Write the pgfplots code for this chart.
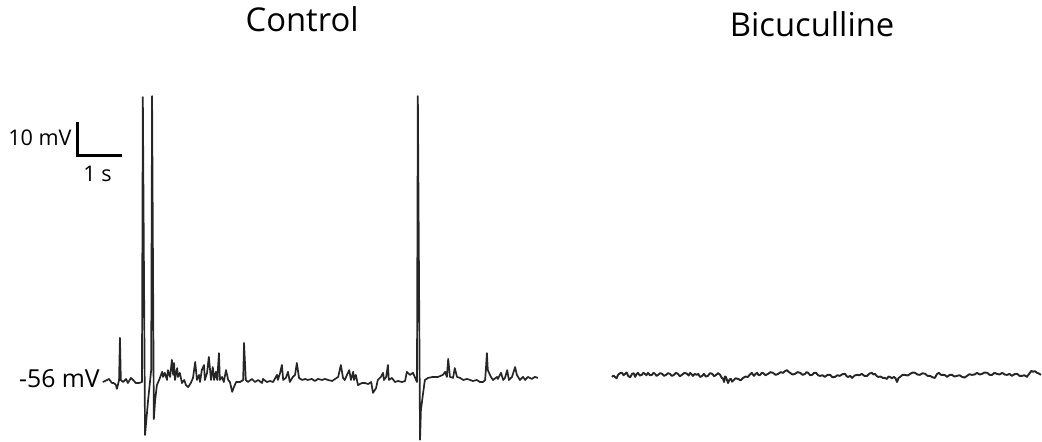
\documentclass[border=0pt]{standalone}
\usepackage{fontspec}
\setmainfont{Open Sans}
\usepackage{pgfplots}
\pgfplotsset{compat=1.18}

\definecolor{trace}{gray}{0.15}

\begin{document}
\begin{tikzpicture}
\begin{axis}[
  scale only axis,
  width=521pt, height=221pt,
  xmin=-2.386, xmax=21.295,
  ymin=-74.24, ymax=55.76,
  hide axis, clip=false,
]
% invisible frame that fixes the picture size
\path (rel axis cs:0,0) rectangle (rel axis cs:1,1);

% control recording: membrane potential (mV) against time (s)
\addplot[trace, line width=0.85pt, line join=round] coordinates {
(-0.05,-56.6) (0.05,-56.0) (0.09,-55.7) (0.16,-56.9) (0.20,-56.9) (0.25,-57.5)
(0.27,-58.6) (0.32,-56.0) (0.34,-43.6) (0.36,-56.0) (0.41,-56.6) (0.48,-55.7)
(0.52,-56.9) (0.59,-55.4) (0.64,-56.0) (0.70,-56.9) (0.77,-56.9) (0.84,-56.6)
(0.86,27.2) (0.91,-72.2) (0.98,-61.9) (1.05,-53.1) (1.07,27.5) (1.11,-67.5)
(1.14,-61.9) (1.18,-57.5) (1.23,-56.0) (1.30,-53.6) (1.32,-55.1) (1.36,-53.9)
(1.41,-56.0) (1.43,-53.1) (1.48,-55.1) (1.52,-50.1) (1.55,-54.5) (1.57,-51.0)
(1.59,-56.0) (1.64,-52.5) (1.66,-55.1) (1.70,-53.9) (1.75,-56.9) (1.80,-56.0)
(1.84,-57.5) (1.89,-58.1) (1.95,-56.9) (2.00,-55.4) (2.05,-50.7) (2.09,-56.0)
(2.14,-54.5) (2.16,-56.6) (2.20,-53.1) (2.25,-51.6) (2.27,-56.0) (2.32,-53.9)
(2.36,-49.2) (2.41,-56.0) (2.45,-52.2) (2.48,-56.0) (2.52,-53.6) (2.55,-56.0)
(2.59,-48.1) (2.61,-56.0) (2.66,-55.1) (2.70,-56.6) (2.75,-53.1) (2.80,-56.0)
(2.84,-56.6) (2.89,-59.5) (2.93,-58.1) (2.98,-56.6) (3.07,-56.6) (3.14,-56.0)
(3.16,-45.1) (3.20,-56.0) (3.25,-56.6) (3.34,-55.7) (3.41,-56.6) (3.48,-56.0)
(3.57,-56.9) (3.59,-55.7) (3.68,-56.6) (3.75,-56.3) (3.82,-56.6) (3.91,-54.5)
(3.93,-56.0) (3.98,-53.9) (4.02,-51.6) (4.05,-56.0) (4.11,-55.4) (4.16,-53.6)
(4.20,-56.6) (4.27,-55.1) (4.32,-54.5) (4.36,-51.0) (4.41,-55.4) (4.48,-56.0)
(4.55,-55.7) (4.61,-56.0) (4.70,-55.7) (4.77,-56.3) (4.84,-55.7) (4.93,-56.0)
(5.00,-55.7) (5.07,-56.0) (5.16,-56.3) (5.23,-55.7) (5.30,-55.1) (5.36,-51.6)
(5.41,-55.4) (5.45,-56.0) (5.50,-54.5) (5.55,-53.1) (5.59,-56.0) (5.64,-53.6)
(5.66,-56.0) (5.70,-54.5) (5.75,-57.5) (5.84,-56.9) (5.91,-56.9) (5.98,-57.2)
(6.05,-56.6) (6.09,-59.8) (6.16,-58.4) (6.20,-56.0) (6.27,-55.1) (6.32,-53.9)
(6.34,-56.0) (6.39,-55.1) (6.43,-51.6) (6.45,-56.0) (6.52,-55.4) (6.59,-56.6)
(6.66,-56.3) (6.75,-56.6) (6.82,-56.3) (6.86,-53.6) (6.93,-54.5) (7.00,-53.9)
(7.07,-56.0) (7.09,-56.6) (7.11,27.5) (7.16,-73.6) (7.18,-64.8) (7.23,-59.8)
(7.27,-56.0) (7.34,-55.4) (7.45,-55.1) (7.57,-55.1) (7.68,-54.5) (7.73,-53.6)
(7.77,-55.1) (7.80,-49.8) (7.84,-55.1) (7.91,-55.4) (7.95,-52.5) (8.00,-55.1)
(8.07,-55.4) (8.14,-56.0) (8.23,-55.7) (8.30,-56.0) (8.36,-56.3) (8.45,-56.0)
(8.52,-56.6) (8.59,-56.6) (8.64,-56.0) (8.68,-48.1) (8.70,-53.1) (8.77,-55.1)
(8.82,-56.0) (8.91,-55.1) (8.93,-55.7) (9.00,-53.9) (9.05,-56.0) (9.09,-55.4)
(9.14,-53.1) (9.18,-56.0) (9.25,-55.1) (9.32,-52.2) (9.36,-54.5) (9.43,-56.0)
(9.50,-55.1) (9.55,-56.0) (9.61,-55.1) (9.70,-55.7) (9.77,-55.1) (9.84,-55.4)
};

% bicuculline recording
\addplot[trace, line width=0.95pt, line join=round] coordinates {
(11.52,-55.1) (11.555,-54.7) (11.59,-55.1) (11.625,-55.5) (11.66,-54.5) (11.705,-54.0)
(11.75,-53.9) (11.785,-54.6) (11.82,-54.2) (11.855,-53.8) (11.89,-54.8) (11.935,-55.2)
(11.98,-54.2) (12.015,-54.0) (12.05,-55.1) (12.08,-54.3) (12.11,-53.9) (12.155,-54.7)
(12.20,-54.5) (12.235,-53.9) (12.27,-54.2) (12.305,-54.6) (12.34,-53.9) (12.385,-54.6)
(12.43,-54.5) (12.465,-53.9) (12.50,-54.2) (12.535,-54.8) (12.57,-54.5) (12.615,-54.0)
(12.66,-54.2) (12.705,-54.8) (12.75,-54.5) (12.795,-54.0) (12.84,-54.2) (12.885,-54.8)
(12.93,-54.5) (12.975,-53.9) (13.02,-54.2) (13.065,-54.9) (13.11,-54.5) (13.17,-53.9)
(13.23,-54.2) (13.265,-54.7) (13.30,-53.9) (13.33,-54.3) (13.36,-54.8) (13.405,-54.2)
(13.45,-54.5) (13.485,-54.2) (13.52,-55.1) (13.565,-54.9) (13.61,-54.2) (13.655,-55.0)
(13.70,-54.8) (13.75,-54.0) (13.80,-54.2) (13.845,-54.9) (13.89,-54.5) (13.935,-54.0)
(13.98,-54.5) (14.00,-55.0) (14.02,-55.4) (14.045,-55.6) (14.07,-56.6) (14.09,-55.0)
(14.11,-55.1) (14.135,-56.0) (14.16,-56.9) (14.195,-55.8) (14.23,-55.7) (14.25,-56.5)
(14.27,-56.3) (14.33,-55.5) (14.39,-55.7) (14.445,-56.1) (14.50,-55.4) (14.555,-55.0)
(14.61,-55.1) (14.655,-54.4) (14.70,-53.9) (14.725,-54.4) (14.75,-54.8) (14.785,-54.2)
(14.82,-53.9) (14.855,-54.6) (14.89,-54.5) (14.92,-54.0) (14.95,-53.9) (15.01,-54.6)
(15.07,-54.2) (15.125,-53.7) (15.18,-53.9) (15.24,-54.5) (15.30,-54.2) (15.355,-53.7)
(15.41,-53.9) (15.455,-53.4) (15.50,-53.1) (15.535,-53.6) (15.57,-53.9) (15.625,-54.4)
(15.68,-54.2) (15.74,-53.7) (15.80,-53.9) (15.855,-54.5) (15.91,-54.2) (15.945,-53.7)
(15.98,-53.9) (16.025,-54.6) (16.07,-54.5) (16.115,-53.9) (16.16,-53.9) (16.205,-54.6)
(16.25,-54.8) (16.305,-54.6) (16.36,-55.1) (16.42,-54.5) (16.48,-54.5) (16.535,-55.2)
(16.59,-55.1) (16.645,-54.6) (16.70,-54.8) (16.76,-54.3) (16.82,-54.2) (16.855,-54.9)
(16.89,-55.1) (16.935,-54.8) (16.98,-55.4) (17.035,-54.7) (17.09,-54.5) (17.145,-54.6)
(17.20,-54.2) (17.26,-54.8) (17.32,-54.8) (17.375,-54.1) (17.43,-53.9) (17.465,-54.4)
(17.50,-54.2) (17.535,-54.8) (17.57,-55.1) (17.625,-55.0) (17.68,-55.4) (17.725,-55.4)
(17.77,-55.7) (17.805,-55.0) (17.84,-55.1) (17.885,-55.5) (17.93,-55.1) (17.965,-55.5)
(18.00,-56.6) (18.035,-55.4) (18.07,-55.1) (18.125,-54.5) (18.18,-54.5) (18.24,-54.7)
(18.30,-54.2) (18.355,-53.8) (18.41,-53.9) (18.465,-54.4) (18.52,-54.5) (18.58,-54.0)
(18.64,-54.2) (18.695,-54.8) (18.75,-54.8) (18.805,-55.2) (18.86,-55.4) (18.905,-54.3)
(18.95,-53.9) (19.00,-54.5) (19.05,-54.5) (19.095,-54.6) (19.14,-55.1) (19.195,-54.5)
(19.25,-54.5) (19.305,-55.0) (19.36,-54.8) (19.42,-54.6) (19.48,-55.1) (19.535,-55.3)
(19.59,-54.8) (19.645,-54.3) (19.70,-54.5) (19.76,-54.4) (19.82,-53.9) (19.875,-54.4)
(19.93,-54.2) (19.99,-53.8) (20.05,-53.9) (20.105,-54.5) (20.16,-54.5) (20.215,-53.9)
(20.27,-54.2) (20.33,-54.4) (20.39,-53.9) (20.445,-54.4) (20.50,-54.5) (20.555,-54.2)
(20.61,-54.8) (20.67,-54.3) (20.73,-54.2) (20.785,-54.8) (20.84,-54.8) (20.895,-54.6)
(20.95,-55.1) (20.985,-54.5) (21.02,-53.9) (21.055,-53.3) (21.09,-53.6) (21.135,-53.4)
(21.18,-53.9) (21.225,-54.1) (21.27,-54.5)
};

% scale bar: 10 mV and 1 s
\addplot[black, line width=1.5pt, line cap=butt, line join=miter] coordinates {
(-0.614,19.9) (-0.614,9.9) (0.386,9.9)
};

\begin{scope}[every node/.style={inner sep=0pt}]
\node[anchor=base east, font=\fontsize{10.8}{12}\selectfont] at (axis cs:-0.75,13.1) {10 mV};
\node[anchor=base, font=\fontsize{10.8}{12}\selectfont] at (axis cs:-0.17,2.24) {1 s};
\node[anchor=base east, font=\fontsize{12.4}{14}\selectfont] at (axis cs:-0.11,-58.35) {-56 mV};
\node[anchor=base, font=\fontsize{16.4}{19}\selectfont] at (axis cs:4.48,46.35) {Control};
\node[anchor=base, font=\fontsize{16.4}{19}\selectfont] at (axis cs:16.07,44.88) {Bicuculline};
\end{scope}
\end{axis}
\end{tikzpicture}
\end{document}
